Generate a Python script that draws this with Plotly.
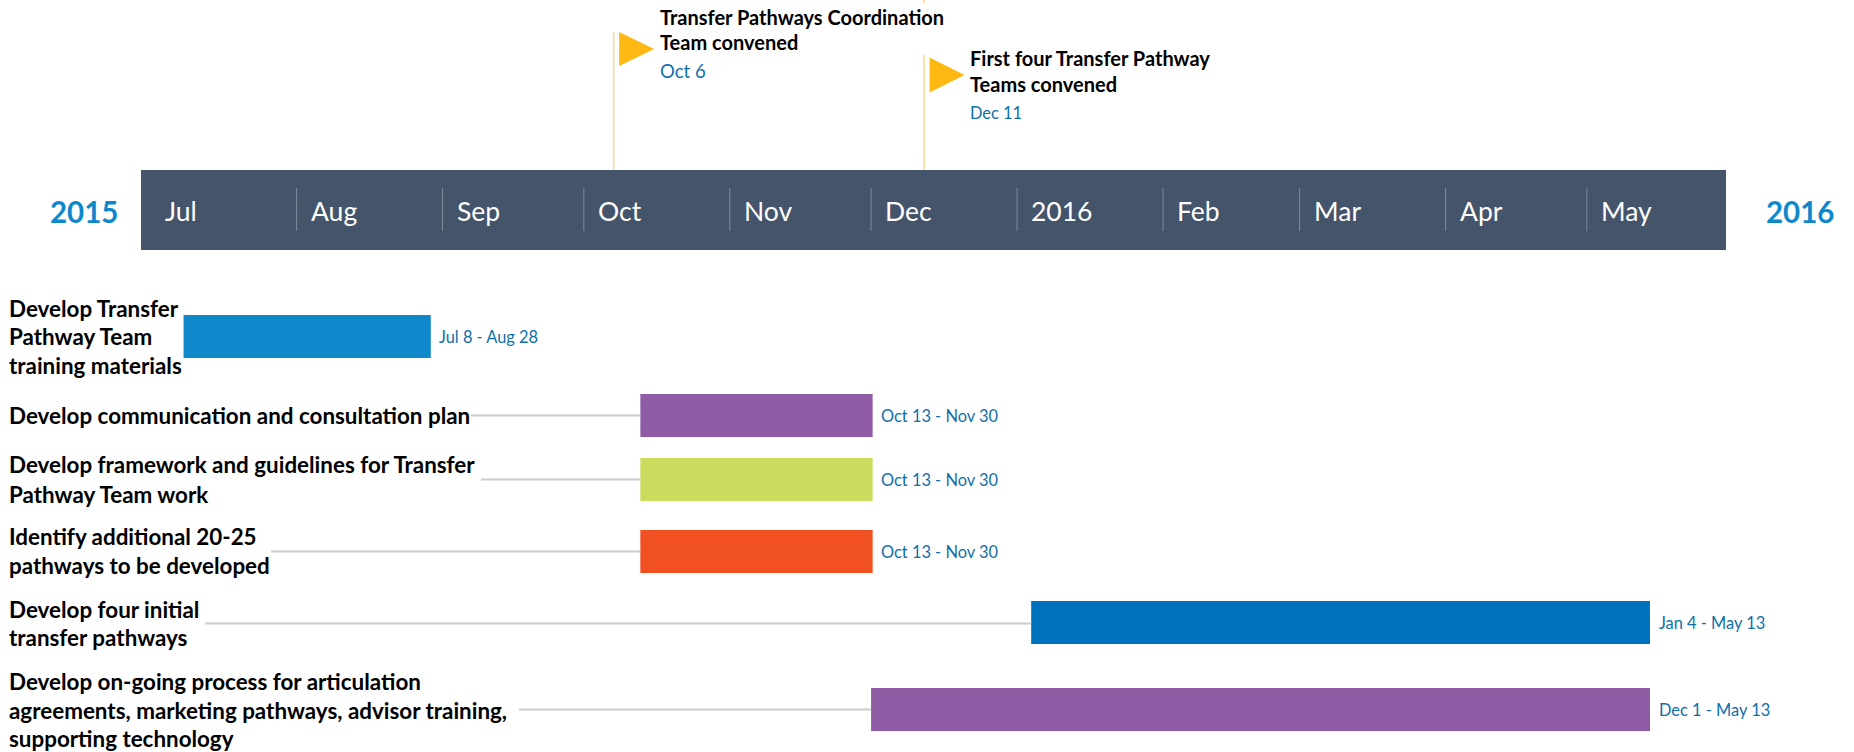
import pandas as pd
import plotly.graph_objects as go

FONT = "Lato"
# --- data ---
months = ["Jul", "Aug", "Sep", "Oct", "Nov", "Dec", "2016", "Feb", "Mar", "Apr", "May"]
month_starts = ["2015-07-01", "2015-08-01", "2015-09-01", "2015-10-01", "2015-11-01", "2015-12-01",
                "2016-01-01", "2016-02-01", "2016-03-01", "2016-04-01", "2016-05-01"]
task_lines = [
    ["Develop Transfer", "Pathway Team", "training materials"],
    ["Develop communication and consultation plan"],
    ["Develop framework and guidelines for Transfer", "Pathway Team work"],
    ["Identify additional 20-25", "pathways to be developed"],
    ["Develop four initial", "transfer pathways"],
    ["Develop on-going process for articulation", "agreements, marketing pathways, advisor training,", "supporting technology"],
]
task_start = ["2015-07-08", "2015-10-13", "2015-10-13", "2015-10-13", "2016-01-04", "2015-12-01"]
task_end = ["2015-08-29 12:00", "2015-12-01 08:00", "2015-12-01 08:00", "2015-12-01 08:00", "2016-05-14 10:00", "2016-05-14 10:00"]
task_dates = ["Jul 8 - Aug 28", "Oct 13 - Nov 30", "Oct 13 - Nov 30", "Oct 13 - Nov 30", "Jan 4 - May 13", "Dec 1 - May 13"]
task_colors = ["#0E88CB", "#8E5BA4", "#CBDB5E", "#F15122", "#0071BC", "#8E5BA4"]
milestone_lines = [["Transfer Pathways Coordination", "Team convened"], ["First four Transfer Pathway", "Teams convened"]]
milestone_dates = ["2015-10-07 08:00", "2015-12-12 06:00"]
milestone_labels = ["Oct 6", "Dec 11"]

# --- layout constants (y axis is in page pixels) ---
PX_PER_DAY = 4.709
X_ORIGIN = pd.Timestamp("2015-07-01")
X_ORIGIN_PX = 150.6
def px2date(px):
    return X_ORIGIN + pd.Timedelta(days=(px - X_ORIGIN_PX) / PX_PER_DAY)

bar_mid = [336.5, 415.5, 479.5, 551.5, 622.5, 709.5]
conn_y = [336.5, 415.5, 479.5, 551.5, 623.5, 709.5]
bar_h = 43
label_y = [[308, 336.5, 365], [415], [464.5, 494], [536.5, 565.5], [609, 637.5], [681, 710, 738.5]]
conn_left = [None, 471, 481, 271, 205, 519]
flag_top = [32, 55]
flag_mid = [49, 75]
flag_h = [34, 35]
flag_w = 35

fig = go.Figure()

# band
shapes = [dict(type="rect", xref="x", yref="y", x0=px2date(141), x1=px2date(1726), y0=170, y1=250,
               fillcolor="#44546A", line_width=0, layer="below")]

# connectors
for i, left in enumerate(conn_left):
    if left is None:
        continue
    fig.add_trace(go.Scatter(x=[px2date(left), task_start[i]], y=[conn_y[i], conn_y[i]], mode="lines",
                             line=dict(color="#CCCCCC", width=2), hoverinfo="skip"))

# bars
dur = [(pd.Timestamp(e) - pd.Timestamp(s)).total_seconds() * 1000 for s, e in zip(task_start, task_end)]
fig.add_trace(go.Bar(orientation="h", base=task_start, x=dur, y=bar_mid, width=bar_h,
                     marker=dict(color=task_colors, line_width=0), hoverinfo="skip"))

# month separators
for d in month_starts[1:]:
    fig.add_trace(go.Scatter(x=[d, d], y=[188, 231], mode="lines", line=dict(color="#7F8A9A", width=1), hoverinfo="skip"))

# milestone poles and flags
for i, d in enumerate(milestone_dates):
    fig.add_trace(go.Scatter(x=[d, d], y=[flag_top[i], 170], mode="lines", line=dict(color="#FBD98E", width=1.5), hoverinfo="skip"))
    h = flag_h[i]
    shapes.append(dict(type="path", xref="x", yref="y", xsizemode="pixel", ysizemode="pixel",
                       xanchor=d, yanchor=flag_mid[i],
                       path=f"M 5.5 {-h/2} L {5.5+flag_w} 0 L 5.5 {h/2} Z", fillcolor="#FDB813", line_width=0))
# small stub of the second pole at the very top edge of the picture
fig.add_trace(go.Scatter(x=[milestone_dates[1]] * 2, y=[0, 3], mode="lines", line=dict(color="#FBD98E", width=1.5), hoverinfo="skip"))

ann = []
def text(x, y, s, size, color="#000000", bold=False, xshift=0, anchor="left"):
    if bold:
        s = f"<b>{s}</b>"
    ann.append(dict(x=x, y=y, xref="x", yref="y", text=s, showarrow=False, xanchor=anchor, yanchor="middle",
                    xshift=xshift, align="left", font=dict(family=FONT, size=size, color=color)))

# month labels
for m, d in zip(months, month_starts):
    text(d, 211, m, 26.5, "#FFFFFF", xshift=12)
# year labels
text(px2date(47.5), 211, "2015", 29.5, "#0E88CB", True)
text(px2date(1764), 211, "2016", 29.5, "#0E88CB", True)

# task labels
for lines, ys in zip(task_lines, label_y):
    for s, y in zip(lines, ys):
        text(px2date(6.5), y, s, 22.4, bold=True)
for e, m, s in zip(task_end, bar_mid, task_dates):
    text(e, m, s, 16.4, "#0F6FA8", xshift=6.5)

# milestone labels
ms_y = [[16.5, 41.5], [58, 84]]
ms_date_y = [71, 112]
ms_date_size = [18.5, 16.4]
for i, d in enumerate(milestone_dates):
    for s, y in zip(milestone_lines[i], ms_y[i]):
        text(d, y, s, 20, bold=True, xshift=44)
    text(d, ms_date_y[i], milestone_labels[i], ms_date_size[i], "#0F6FA8", xshift=44)

fig.update_layout(
    width=1854, height=752, margin=dict(l=0, r=0, t=0, b=0), autosize=False,
    paper_bgcolor="#FFFFFF", plot_bgcolor="#FFFFFF", showlegend=False, hovermode=False,
    shapes=shapes, annotations=ann,
    xaxis=dict(type="date", range=[px2date(0), px2date(1854)], visible=False, domain=[0, 1]),
    yaxis=dict(range=[752, 0], visible=False, domain=[0, 1]),
)
fig.write_html("out.html", post_script="document.body.style.margin='0';document.body.style.overflow='hidden';",
               config={"displayModeBar": False})
